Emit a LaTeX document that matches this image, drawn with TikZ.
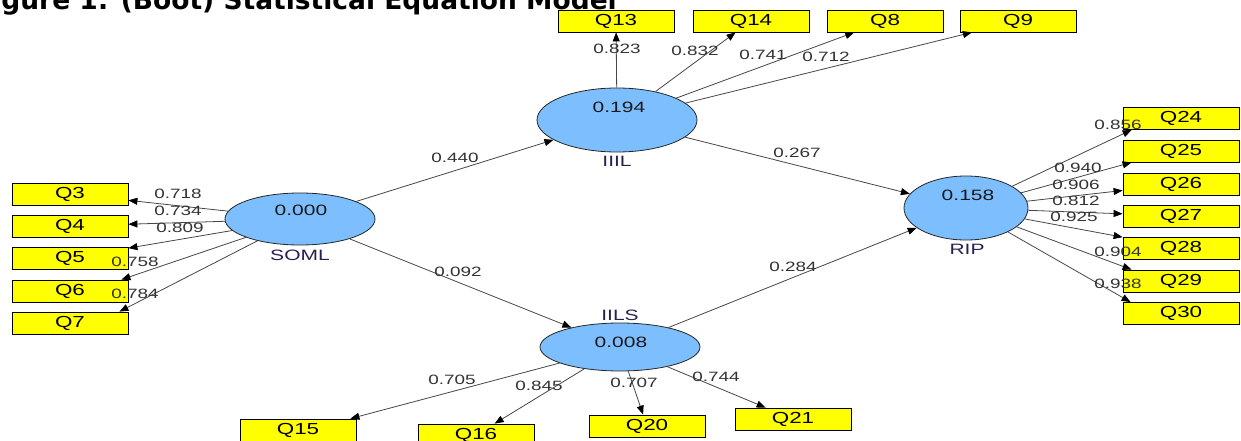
\documentclass[tikz,border=0pt]{standalone}
\usepackage{fontspec}
\setmainfont{Liberation Sans}
\newfontfamily\plsfont[FakeStretch=1.4]{Liberation Sans}
\newfontfamily\headfont{DejaVu Sans}
\usetikzlibrary{arrows.meta,shapes.geometric}

\definecolor{latblue}{RGB}{125,190,255}
\definecolor{itemyellow}{RGB}{255,255,0}
\definecolor{wiregray}{RGB}{70,70,70}
\definecolor{namecol}{RGB}{40,30,80}

\tikzset{
  latent/.style={ellipse,draw=black!85,line width=0.8pt,fill=latblue,inner sep=0pt},
  item/.style={rectangle,draw=black,line width=0.8pt,fill=itemyellow,minimum width=116pt,
    minimum height=22pt,inner sep=0pt,font=\plsfont\fontsize{16}{16}\selectfont},
  coef/.style={inner sep=0pt,text=black!80,font=\plsfont\fontsize{13.5}{13.5}\selectfont},
  rsq/.style={inner sep=0pt,text=black!90,font=\plsfont\fontsize{15}{15}\selectfont},
  latname/.style={inner sep=0pt,text=namecol,font=\plsfont\fontsize{15}{15}\selectfont},
  wire/.style={draw=wiregray,line width=0.8pt,-{Triangle[length=9pt,width=7pt,color=black]}},
}

\begin{document}
\begin{tikzpicture}[x=1pt,y=-1pt]
  \useasboundingbox (0,0) rectangle (1241,441);
  \clip (0,0) rectangle (1241,441);

  \node[anchor=base east,inner sep=0pt,font=\headfont\bfseries\fontsize{26.5}{26.5}\selectfont]
    (title) at (617,10) {Figure 1: (Boot) Statistical Equation Model};

  % latent variables
  \node[latent,minimum width=150pt,minimum height=52pt] (soml) at (300,219) {};
  \node[latent,minimum width=160pt,minimum height=64pt] (iiil) at (617,120) {};
  \node[latent,minimum width=160pt,minimum height=48pt] (iils) at (620,347) {};
  \node[latent,minimum width=124pt,minimum height=64pt] (rip) at (966,208) {};

  \node[rsq] (somlval) at (301,210) {0.000};
  \node[rsq] (iiilval) at (619,107) {0.194};
  \node[rsq] (iilsval) at (621,342) {0.008};
  \node[rsq] (ripval) at (968,195) {0.158};

  \node[latname] (somlname) at (300,255) {SOML};
  \node[latname] (iiilname) at (617,161) {IIIL};
  \node[latname] (iilsname) at (620,315) {IILS};
  \node[latname] (ripname) at (967,249) {RIP};

  % indicators
  \node[item] (q13) at (616,21) {Q13};
  \node[item] (q14) at (751,21) {Q14};
  \node[item] (q8) at (885,21) {Q8};
  \node[item] (q9) at (1018,21) {Q9};

  \node[item] (q3) at (70,194) {Q3};
  \node[item] (q4) at (70,226) {Q4};
  \node[item] (q5) at (70,258) {Q5};
  \node[item] (q6) at (70,291) {Q6};
  \node[item] (q7) at (70,323) {Q7};

  \node[item] (q24) at (1181,118.5) {Q24};
  \node[item] (q25) at (1181,151) {Q25};
  \node[item] (q26) at (1181,184) {Q26};
  \node[item] (q27) at (1181,216) {Q27};
  \node[item] (q28) at (1181,248) {Q28};
  \node[item] (q29) at (1181,281) {Q29};
  \node[item] (q30) at (1181,313.5) {Q30};

  \node[item] (q15) at (298,430) {Q15};
  \node[item] (q16) at (476,435) {Q16};
  \node[item] (q20) at (647,426) {Q20};
  \node[item] (q21) at (793,419) {Q21};

  % inner model
  \draw[wire] (soml) -- (iiil);
  \draw[wire] (soml) -- (iils);
  \draw[wire] (iiil) -- (rip);
  \draw[wire] (iils) -- (rip);

  % outer model
  \draw[wire] (iiil) -- (q13);
  \draw[wire] (iiil) -- (q14);
  \draw[wire] (iiil) -- (q8);
  \draw[wire] (iiil) -- (q9);

  \draw[wire] (soml) -- (q3);
  \draw[wire] (soml) -- (q4);
  \draw[wire] (soml) -- (q5);
  \draw[wire] (soml) -- ([xshift=-7pt]q6.north east);
  \draw[wire] (soml) -- ([xshift=-9pt]q7.north east);

  \draw[wire] (rip) -- ([xshift=9pt]q24.south west);
  \draw[wire] (rip) -- ([xshift=9pt]q25.south west);
  \draw[wire] (rip) -- (q26);
  \draw[wire] (rip) -- (q27);
  \draw[wire] (rip) -- (q28);
  \draw[wire] (rip) -- ([xshift=9pt]q29.north west);
  \draw[wire] (rip) -- ([xshift=8pt]q30.north west);

  \draw[wire] (iils) -- ([xshift=-6pt]q15.north east);
  \draw[wire] (iils) -- (q16);
  \draw[wire] (iils) -- (q20);
  \draw[wire] (iils) -- (q21);

  % coefficients
  \node[coef] (c440) at (455,158) {0.440};
  \node[coef] (c267) at (797,153) {0.267};
  \node[coef] (c092) at (458,272) {0.092};
  \node[coef] (c284) at (793,267) {0.284};

  \node[coef] (l13) at (617,49) {0.823};
  \node[coef] (l14) at (695,51) {0.832};
  \node[coef] (l8) at (763,55) {0.741};
  \node[coef] (l9) at (826,57) {0.712};

  \node[coef] (l3) at (178,194) {0.718};
  \node[coef] (l4) at (178,211) {0.734};
  \node[coef] (l5) at (180,228) {0.809};
  \node[coef] (l6) at (135,262) {0.758};
  \node[coef] (l7) at (135,294) {0.784};

  \node[coef] (l24) at (1118,125) {0.856};
  \node[coef] (l25) at (1078,168) {0.940};
  \node[coef] (l26) at (1076,185) {0.906};
  \node[coef] (l27) at (1076,201) {0.812};
  \node[coef] (l28) at (1074,217) {0.925};
  \node[coef] (l29) at (1118,252) {0.904};
  \node[coef] (l30) at (1118,284) {0.938};

  \node[coef] (l15) at (452,380) {0.705};
  \node[coef] (l16) at (539,386) {0.845};
  \node[coef] (l20) at (634,383) {0.707};
  \node[coef] (l21) at (716,377) {0.744};
\end{tikzpicture}
\end{document}
